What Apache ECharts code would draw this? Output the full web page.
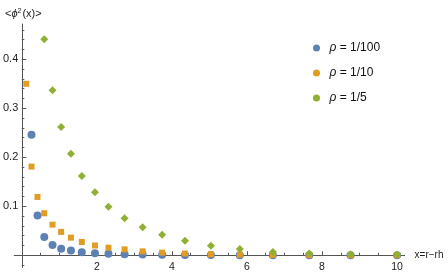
<!DOCTYPE html>
<html>
<head>
<meta charset="utf-8">
<script src="https://cdn.jsdelivr.net/npm/echarts@6/dist/echarts.min.js"></script>
<style>
html,body{margin:0;padding:0;background:#fff;}
#chart{width:448px;height:273px;}
</style>
</head>
<body>
<div id="chart"></div>
<script>
// ---- data ----
const xGrid = [0.12, 0.26, 0.42, 0.60, 0.82, 1.05, 1.31, 1.60, 1.95, 2.31, 2.74, 3.22, 3.74, 4.35, 5.04, 5.81, 6.69, 7.66, 8.76, 10.0];
const seriesNames = ['ρ = 1/100', 'ρ = 1/10', 'ρ = 1/5'];
const rho100 = [null, 0.246, 0.081, 0.037, 0.021, 0.0135, 0.0095, 0.006, 0.004, 0.003, 0.002, 0.0013, 0.0008, 0.0005, 0.0003, 0.0002, 0.0001, 0, 0, 0];
const rho10  = [0.35, 0.181, 0.119, 0.0857, 0.0625, 0.0476, 0.036, 0.027, 0.020, 0.0155, 0.012, 0.008, 0.0053, 0.0035, 0.002, 0.0012, 0.0006, 0.0003, 0.0002, 0.0001];
const rho5   = [null, null, null, 0.441, 0.337, 0.262, 0.207, 0.162, 0.1286, 0.099, 0.0755, 0.057, 0.042, 0.0298, 0.0196, 0.0129, 0.0067, 0.0035, 0.0018, 0.001];
const xMajorTicks = [2, 4, 6, 8, 10];
const xMinorTicks = [0.5, 1, 1.5, 2.5, 3, 3.5, 4.5, 5, 5.5, 6.5, 7, 7.5, 8.5, 9, 9.5];
const yMajorTicks = [0.1, 0.2, 0.3, 0.4];
const yMinorTicks = [-0.02, 0.02, 0.04, 0.06, 0.08, 0.12, 0.14, 0.16, 0.18, 0.22, 0.24, 0.26, 0.28, 0.32, 0.34, 0.36, 0.38, 0.42, 0.44, 0.46];
const xRange = [-0.2, 10.2];
const yRange = [-0.025, 0.472];

// ---- chart ----
const pair = (ys) => xGrid.map((x, i) => ys[i] == null ? null : [x, ys[i]]).filter(d => d);
const axisColor = '#555';
const font = '"Liberation Sans", Arial, sans-serif';

const chart = echarts.init(document.getElementById('chart'), null, {renderer: 'canvas'});

const gridLeft = 12, gridRight = 43.4, gridTop = 24, gridBottom = 5.5;
const plotW = 448 - gridLeft - gridRight;
const plotH = 273 - gridTop - gridBottom;
const yAxisOffset = -((0 - xRange[0]) / (xRange[1] - xRange[0])) * plotW;
const xAxisOffset = -((0 - yRange[0]) / (yRange[1] - yRange[0])) * plotH;

function xAx(major) {
  return {
    type: 'value', min: xRange[0], max: xRange[1], position: 'bottom', offset: xAxisOffset,
    splitLine: {show: false},
    axisLine: {show: major, onZero: false, lineStyle: {color: axisColor, width: 1}},
    axisTick: {show: true, inside: true, length: major ? 4 : 2.5, customValues: major ? xMajorTicks : xMinorTicks, lineStyle: {color: axisColor}},
    axisLabel: {show: major, customValues: xMajorTicks, margin: 6, color: '#222', fontSize: 10.5, fontFamily: font},
    name: major ? 'x=r\u2212rh' : '', nameLocation: 'end', nameGap: 10,
    nameTextStyle: {color: '#222', fontSize: 10, fontFamily: font}
  };
}
function yAx(major) {
  return {
    type: 'value', min: yRange[0], max: yRange[1], position: 'left', offset: yAxisOffset,
    splitLine: {show: false},
    axisLine: {show: major, onZero: false, lineStyle: {color: axisColor, width: 1}},
    axisTick: {show: true, inside: true, length: major ? 4.5 : 2.5, customValues: major ? yMajorTicks : yMinorTicks, lineStyle: {color: axisColor}},
    axisLabel: {show: major, customValues: yMajorTicks, margin: 3.5, color: '#222', fontSize: 11, fontFamily: font,
      formatter: v => v.toFixed(1)}
  };
}

chart.setOption({
  animation: false,
  backgroundColor: '#fff',
  title: {
    text: '<{i|ϕ}{sup|2}(x)>',
    left: 0, top: 3,
    textStyle: {
      fontSize: 11, fontWeight: 'normal', color: '#222', fontFamily: font,
      rich: {
        i: {fontStyle: 'italic', fontSize: 11, color: '#222', fontFamily: font},
        sup: {fontSize: 7, verticalAlign: 'top', color: '#222', fontFamily: font, padding: [0, 1, 5, 0]}
      }
    }
  },
  legend: {
    orient: 'vertical', left: 308, top: 37, itemGap: 13,
    icon: 'circle', itemWidth: 16, itemHeight: 7,
    data: seriesNames,
    formatter: name => '{i|ρ}' + name.slice(1),
    textStyle: {fontSize: 12, color: '#111', fontFamily: font,
      rich: {i: {fontStyle: 'italic', fontSize: 12, color: '#111', fontFamily: font}}}
  },
  grid: {left: gridLeft, right: gridRight, top: gridTop, bottom: gridBottom, containLabel: false},
  xAxis: [xAx(true), xAx(false)],
  yAxis: [yAx(true), yAx(false)],
  series: [
    {name: seriesNames[0], type: 'scatter', xAxisIndex: 0, yAxisIndex: 0, symbol: 'circle', symbolSize: 8,
     itemStyle: {color: '#5E81B5', opacity: 1}, data: pair(rho100), z: 2},
    {name: seriesNames[1], type: 'scatter', xAxisIndex: 0, yAxisIndex: 0, symbol: 'rect', symbolSize: 6,
     itemStyle: {color: '#E19C24', opacity: 1}, data: pair(rho10), z: 3},
    {name: seriesNames[2], type: 'scatter', xAxisIndex: 0, yAxisIndex: 0, symbol: 'diamond', symbolSize: 8,
     itemStyle: {color: '#8FB032', opacity: 1}, data: pair(rho5), z: 4}
  ]
});
</script>
</body>
</html>
